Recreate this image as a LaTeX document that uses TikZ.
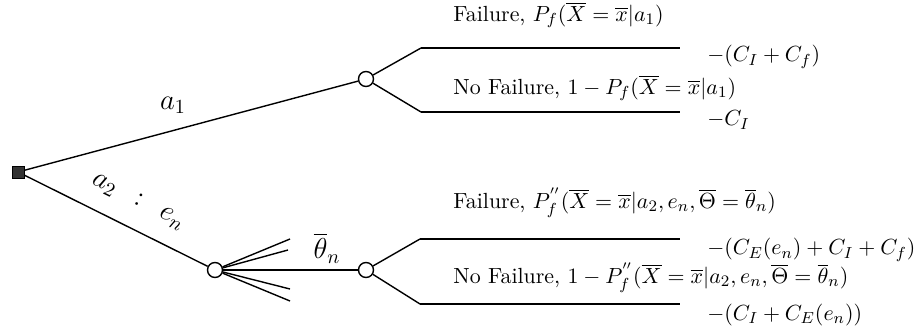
\documentclass[tikz,border=0pt,11pt]{standalone}
\usepackage{amsmath}
\usepackage{amssymb}
\usepackage{tikz}

\begin{document}
\begin{tikzpicture}[x=0.5pt,y=0.5pt,
  decsq/.style={rectangle,draw,fill=black!80,inner sep=0pt,minimum size=6pt},
  chance/.style={circle,draw,fill=white,line width=0.7pt,inner sep=0pt,minimum size=7.5pt},
  branch/.style={line width=0.7pt},
  outcome/.style={line width=1.1pt},
  lbl/.style={anchor=west,inner sep=0pt}]
  \useasboundingbox (0,0) rectangle (917,-331);
  % decision and chance nodes
  \node[decsq] (D) at (18,-172) {};
  \node[chance] (C1) at (366,-79) {};
  \node[chance] (C2) at (215,-270) {};
  \node[chance] (C3) at (366,-270) {};
  % ends of the outcome branches
  \coordinate (F1) at (421,-48);
  \coordinate (F1e) at (680,-48);
  \coordinate (N1) at (421,-112);
  \coordinate (N1e) at (680,-112);
  \coordinate (F2) at (420,-239);
  \coordinate (F2e) at (680,-239);
  \coordinate (N2) at (420,-304);
  \coordinate (N2e) at (680,-304);
  \coordinate (T1) at (290,-239);
  \coordinate (T2) at (288,-250);
  \coordinate (T3) at (290,-289);
  \coordinate (T4) at (290,-301);
  \draw[branch] (D) -- (C1);
  \draw[branch] (D) -- (C2);
  \draw[branch] (C2) -- (C3);
  \foreach \t in {T1,T2,T3,T4}
    \draw[branch] (C2) -- (\t);
  \draw[branch] (C1) -- (F1);
  \draw[branch] (C1) -- (N1);
  \draw[branch] (C3) -- (F2);
  \draw[branch] (C3) -- (N2);
  \draw[outcome] (F1) -- (F1e);
  \draw[outcome] (N1) -- (N1e);
  \draw[outcome] (F2) -- (F2e);
  \draw[outcome] (N2) -- (N2e);
  % branch labels
  \node at (173,-105) {\Large $a_1$};
  \node[rotate=-26.5] at (138,-202) {\Large $a_2 \;\,:\;\, e_n$};
  \node at (327,-248) {\Large $\overline{\theta}_n$};
  \node[lbl] at (453,-15) {Failure, $P_f(\overline{X}=\overline{x}|a_1)$};
  \node[lbl] at (453,-88) {No Failure, $1-P_f(\overline{X}=\overline{x}|a_1)$};
  \node[lbl] at (453,-203) {Failure, $P^{''}_f(\overline{X}=\overline{x}|a_2,e_n,\overline{\Theta}=\overline{\theta}_n)$};
  \node[lbl] at (453,-278) {No Failure, $1-P^{''}_f(\overline{X}=\overline{x}|a_2,e_n,\overline{\Theta}=\overline{\theta}_n)$};
  % payoffs
  \node[lbl] at (707,-57) {$-(C_I+C_f)$};
  \node[lbl] at (707,-120) {$-C_I$};
  \node[lbl] at (707,-250) {$-(C_E(e_n)+C_I+C_f)$};
  \node[lbl] at (707,-315) {$-(C_I+C_E(e_n))$};
\end{tikzpicture}
\end{document}
